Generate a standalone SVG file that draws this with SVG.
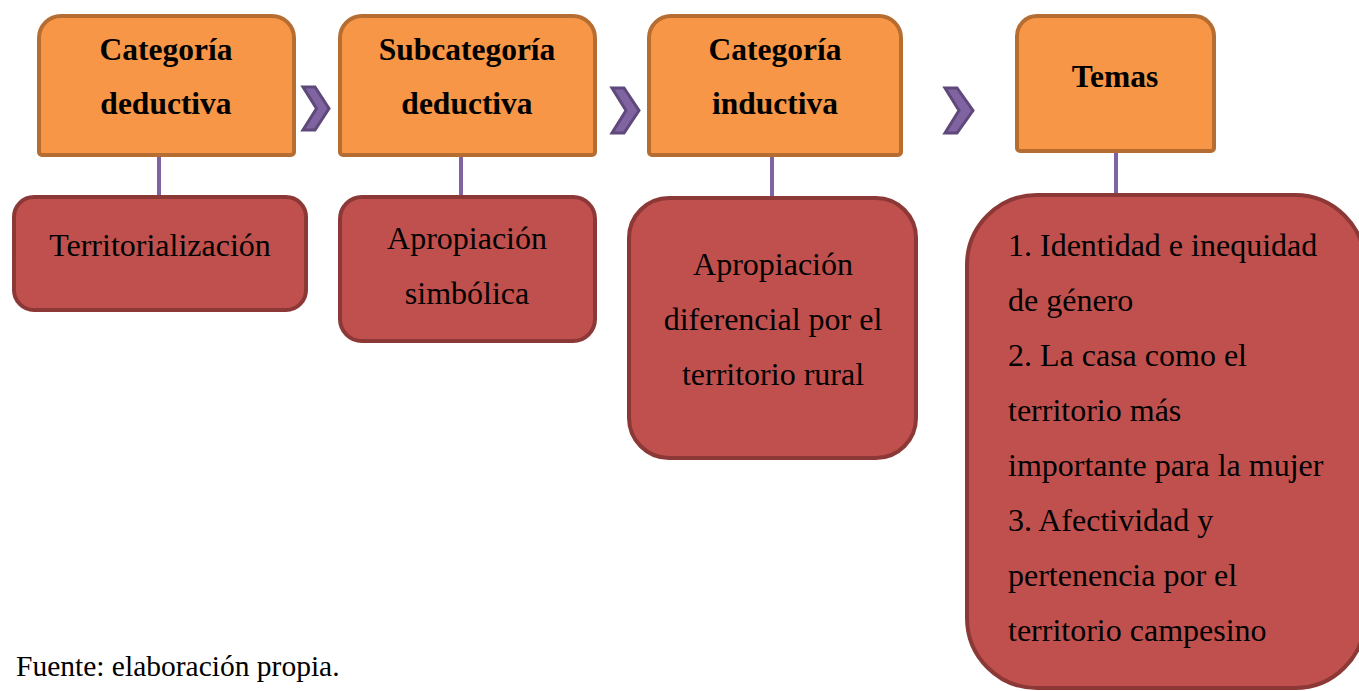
<svg xmlns="http://www.w3.org/2000/svg" width="1359" height="691" viewBox="0 0 1359 691">
<style>
.hdr{fill:#F79646;stroke:#B66D32;stroke-width:4}
.sub{fill:#C0504D;stroke:#8C3836;stroke-width:4}
.conn{stroke:#8064A2;stroke-width:4;fill:none}
.chev{fill:#8064A2;stroke:#5F497A;stroke-width:3;stroke-linejoin:miter}
.b{font-family:"Liberation Serif","Times New Roman",serif;font-weight:bold;font-size:31.5px;fill:#000;text-anchor:middle}
.t{font-family:"Liberation Serif","Times New Roman",serif;font-size:32px;fill:#000}
.c{text-anchor:middle}
</style>
<rect width="1359" height="691" fill="#fff"/>
<g id="connectors">
<line class="conn" x1="159" y1="155" x2="159" y2="198"/>
<line class="conn" x1="461" y1="155" x2="461" y2="198"/>
<line class="conn" x1="772" y1="155" x2="772" y2="198"/>
<line class="conn" x1="1116" y1="151" x2="1116" y2="196"/>
<polygon class="chev" points="303,87 315,87 329,108.5 315,130 303,130 316.5,108.5"/>
<polygon class="chev" points="612,88 624,88 639,110.5 624,133 612,133 626,110.5"/>
<polygon class="chev" points="945,88 957,88 973,110.5 957,133 945,133 959,110.5"/>
</g>
<g id="node-categoria-deductiva">
<path class="hdr" d="M39,38 A22,22 0 0 1 61,16 L272,16 A22,22 0 0 1 294,38 L294,152 A3,3 0 0 1 291,155 L42,155 A3,3 0 0 1 39,152 Z"/>
<text class="b" x="166" y="60">Categoría</text>
<text class="b" x="166" y="114">deductiva</text>
</g>
<g id="node-subcategoria-deductiva">
<path class="hdr" d="M340,38 A22,22 0 0 1 362,16 L573,16 A22,22 0 0 1 595,38 L595,152 A3,3 0 0 1 592,155 L343,155 A3,3 0 0 1 340,152 Z"/>
<text class="b" x="467" y="60">Subcategoría</text>
<text class="b" x="467" y="114">deductiva</text>
</g>
<g id="node-categoria-inductiva">
<path class="hdr" d="M649,38 A22,22 0 0 1 671,16 L879,16 A22,22 0 0 1 901,38 L901,152 A3,3 0 0 1 898,155 L652,155 A3,3 0 0 1 649,152 Z"/>
<text class="b" x="775" y="60">Categoría</text>
<text class="b" x="775" y="114">inductiva</text>
</g>
<g id="node-temas">
<path class="hdr" d="M1017,36 A20,20 0 0 1 1037,16 L1194,16 A20,20 0 0 1 1214,36 L1214,148 A3,3 0 0 1 1211,151 L1020,151 A3,3 0 0 1 1017,148 Z"/>
<text class="b" x="1115" y="87">Temas</text>
</g>
<g id="node-territorializacion">
<rect class="sub" x="14" y="197" width="292" height="113" rx="20"/>
<text class="t c" x="160" y="256">Territorialización</text>
</g>
<g id="node-apropiacion-simbolica">
<rect class="sub" x="340" y="197" width="255" height="144" rx="22"/>
<text class="t c" x="467" y="249">Apropiación</text>
<text class="t c" x="467" y="304">simbólica</text>
</g>
<g id="node-apropiacion-diferencial">
<rect class="sub" x="629" y="198" width="287" height="260" rx="40"/>
<text class="t c" x="773" y="275">Apropiación</text>
<text class="t c" x="773" y="330">diferencial por el</text>
<text class="t c" x="773" y="385">territorio rural</text>
</g>
<g id="node-temas-lista">
<rect class="sub" x="967" y="195" width="398" height="493" rx="70"/>
<text class="t" x="1008" y="256">1. Identidad e inequidad</text>
<text class="t" x="1008" y="311">de género</text>
<text class="t" x="1008" y="366">2. La casa como el</text>
<text class="t" x="1008" y="421">territorio más</text>
<text class="t" x="1008" y="476">importante para la mujer</text>
<text class="t" x="1008" y="531">3. Afectividad y</text>
<text class="t" x="1008" y="586">pertenencia por el</text>
<text class="t" x="1008" y="641">territorio campesino</text>
</g>
<text class="t" x="16" y="676" style="font-size:29.5px">Fuente: elaboración propia.</text>
</svg>
